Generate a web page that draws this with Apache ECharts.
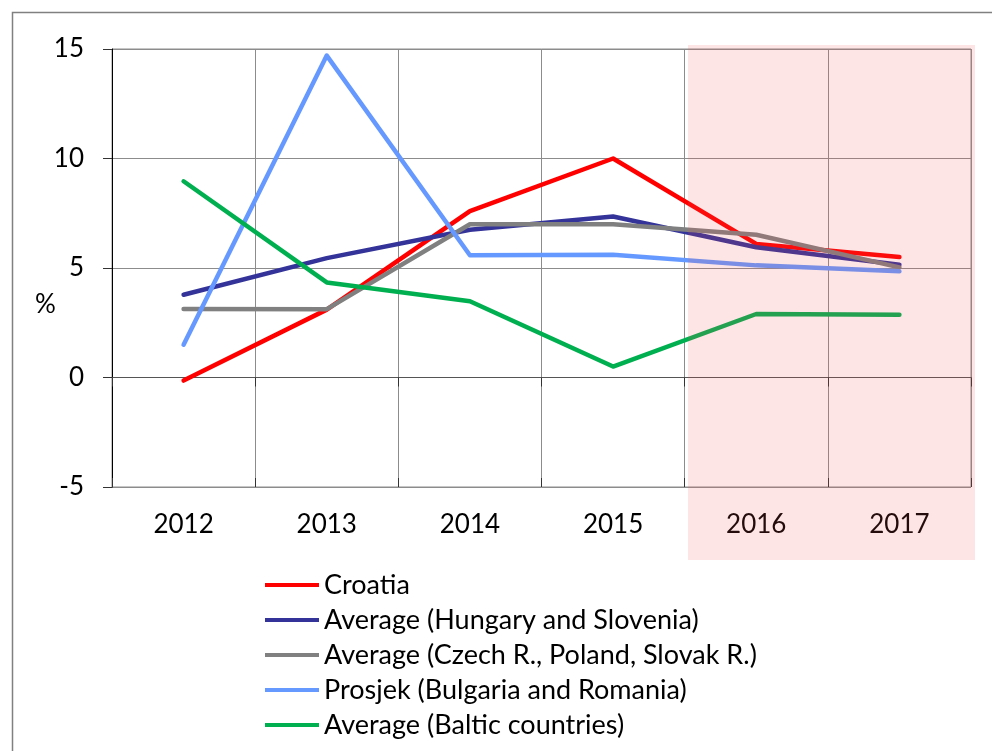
<!DOCTYPE html>
<html>
<head>
<meta charset="utf-8">
<script src="https://cdn.jsdelivr.net/npm/echarts@6/dist/echarts.min.js"></script>
<style>
  html, body { margin: 0; padding: 0; background: #fff; }
  #chart { width: 992px; height: 751px; }
</style>
</head>
<body>
<div id="chart"></div>
<script>
const years = ['2012', '2013', '2014', '2015', '2016', '2017'];
const croatia = [-0.14, 3.1, 7.6, 10.0, 6.1, 5.5];
const hungarySlovenia = [3.78, 5.45, 6.75, 7.35, 5.95, 5.15];
const czechPolandSlovak = [3.13, 3.12, 7.0, 7.0, 6.52, 5.03];
const bulgariaRomania = [1.5, 14.7, 5.58, 5.61, 5.12, 4.85];
const baltic = [8.96, 4.34, 3.48, 0.5, 2.9, 2.87];
const yTicks = { min: -5, max: 15, interval: 5 };

const font = 'Lato, "Open Sans", sans-serif';
const gridColor = '#8c8c8c';

const line = (name, data, color) => ({
  name,
  type: 'line',
  data,
  showSymbol: false,
  symbol: 'none',
  lineStyle: { color, width: 4.5, cap: 'round', join: 'round' },
  itemStyle: { color },
  z: 3,
});

// extra axes sitting on y = 0, ticks crossing the line
const zeroAxis = (inside) => ({
  type: 'category',
  data: years,
  position: 'bottom',
  axisLine: { show: !inside, onZero: true, lineStyle: { color: '#555', width: 1 } },
  axisTick: { show: true, inside, length: 9, lineStyle: { color: '#333' } },
  axisLabel: { show: false },
  splitLine: { show: false },
});

const chart = echarts.init(document.getElementById('chart'), null, { renderer: 'canvas' });

chart.setOption({
  animation: false,
  textStyle: { fontFamily: font },
  grid: {
    left: 112,
    right: 21,
    top: 49,
    bottom: 264,
    show: true,
    borderColor: gridColor,
    borderWidth: 1,
  },
  xAxis: [
    {
      type: 'category',
      data: years,
      axisLine: { show: false, onZero: false },
      axisTick: { show: false },
      axisLabel: { color: '#000', fontSize: 26, fontFamily: font, margin: 25 },
      splitLine: { show: true, lineStyle: { color: gridColor, width: 1 } },
    },
    zeroAxis(false),
    zeroAxis(true),
  ],
  yAxis: {
    type: 'value',
    ...yTicks,
    axisLine: { show: true, lineStyle: { color: '#000', width: 1 } },
    axisTick: { show: true, length: 9, lineStyle: { color: '#333' } },
    axisLabel: { color: '#000', fontSize: 26, fontFamily: font, margin: 28 },
    splitLine: { show: true, lineStyle: { color: gridColor, width: 1 } },
  },
  legend: {
    orient: 'vertical',
    left: 265,
    top: 571,
    padding: 0,
    icon: 'rect',
    itemWidth: 54,
    itemHeight: 4,
    itemGap: 7,
    textStyle: { color: '#000', fontSize: 27, fontFamily: font, lineHeight: 28 },
    data: [
      'Croatia',
      'Average (Hungary and Slovenia)',
      'Average (Czech R., Poland, Slovak R.)',
      'Prosjek (Bulgaria and Romania)',
      'Average (Baltic countries)',
    ],
  },
  graphic: [
    {
      type: 'rect',
      left: 10,
      top: 10,
      shape: { width: 1000, height: 800 },
      style: { fill: 'none', stroke: '#808080', lineWidth: 1.5 },
      silent: true,
      z: -1,
    },
    {
      type: 'text',
      left: 35,
      top: 292,
      style: { text: '%', fill: '#000', font: '26px ' + font },
    },
    {
      type: 'rect',
      left: 688,
      top: 45,
      shape: { width: 287, height: 515 },
      style: { fill: 'rgba(240, 80, 80, 0.15)' },
      silent: true,
      z: 10,
    },
  ],
  series: [
    line('Croatia', croatia, '#ff0000'),
    line('Average (Hungary and Slovenia)', hungarySlovenia, '#333399'),
    line('Average (Czech R., Poland, Slovak R.)', czechPolandSlovak, '#808080'),
    line('Prosjek (Bulgaria and Romania)', bulgariaRomania, '#6699ff'),
    line('Average (Baltic countries)', baltic, '#00b050'),
  ],
});
</script>
</body>
</html>
